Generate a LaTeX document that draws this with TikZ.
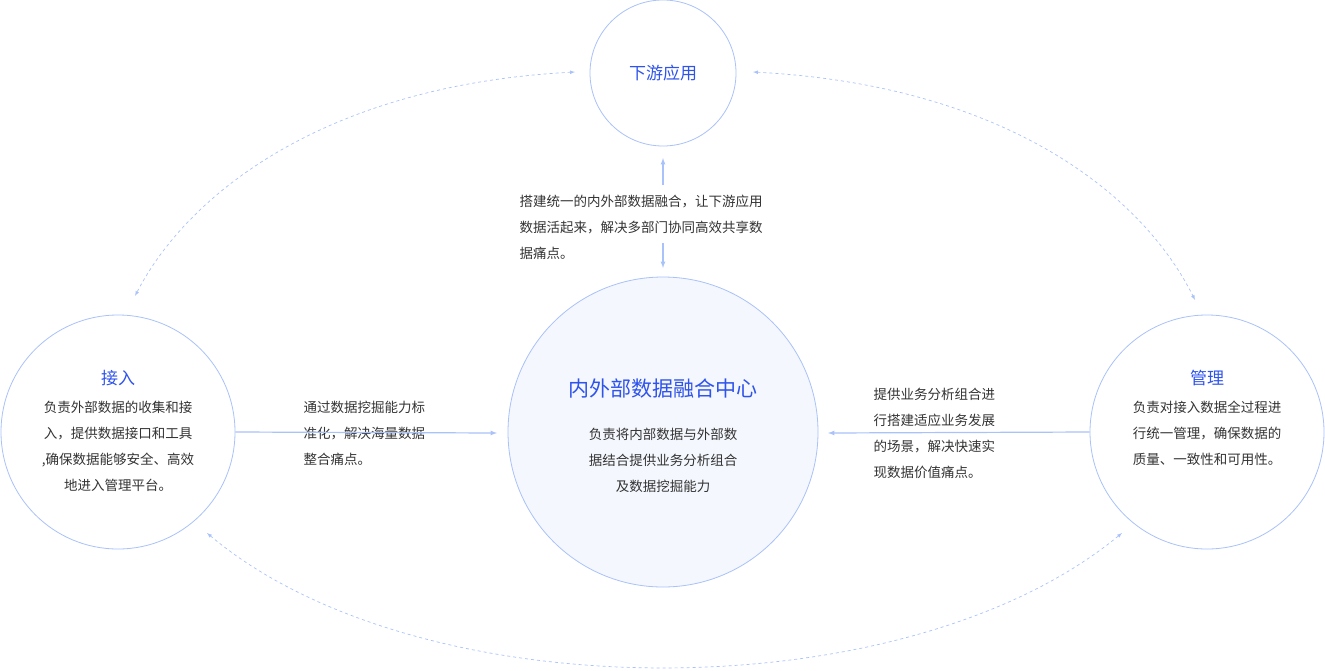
\documentclass[tikz,border=0pt]{standalone}
\usepackage{fontspec}
\newfontfamily\cjk{Noto Sans CJK SC}
\usetikzlibrary{positioning}
\definecolor{ringblue}{HTML}{A9C2F9}
\definecolor{titleblue}{HTML}{2F54EB}
\definecolor{hubfill}{HTML}{F4F7FD}
\definecolor{bodygray}{HTML}{333333}
\tikzstyle{ring}=[circle,draw=ringblue,fill=white,line width=0.8pt]
\tikzstyle{title}=[text=titleblue,font=\cjk\fontsize{17}{20}\selectfont]
\tikzstyle{body}=[text=bodygray,font=\cjk\fontsize{13.5}{26}\selectfont,align=center]
\tikzstyle{note}=[text=bodygray,font=\cjk\fontsize{13.5}{26}\selectfont,align=left]
\tikzstyle{flow}=[-latex,draw=ringblue,line width=1.2pt]
\tikzstyle{loopflow}=[latex-latex,draw=ringblue,dashed,line width=0.7pt]

\begin{document}
\begin{tikzpicture}[x=1pt,y=-1pt]
	\useasboundingbox (0,0) rectangle (1325,670);
	% circles
	\node [ring,minimum size=146pt] (top) at (663,73) {};
	\node [ring,fill=hubfill,minimum size=310pt] (hub) at (663,432) {};
	\node [ring,minimum size=234pt] (left) at (118,432) {};
	\node [ring,minimum size=234pt] (right) at (1207,432) {};
	\node [title] at (663,73) {下游应用};
	\node [title,font=\cjk\fontsize{21}{24}\selectfont] at (663,389) {内外部数据融合中心};
	\node [body] at (663,460) {负责将内部数据与外部数\\据结合提供业务分析组合\\及数据挖掘能力};
	\node [title] at (118,378) {接入};
	\node [body] at (118,446) {负责外部数据的收集和接\\入，提供数据接口和工具\\,确保数据能够安全、高效\\地进入管理平台。};
	\node [title] at (1207,378) {管理};
	\node [body] at (1207,433) {负责对接入数据全过程进\\行统一管理，确保数据的\\质量、一致性和可用性。};
	% notes
	\node [note,anchor=west] (topnote) at (516,227) {搭建统一的内外部数据融合，让下游应用\\数据活起来，解决多部门协同高效共享数\\据痛点。};
	\node [note,anchor=west] (leftnote) at (300,433) {通过数据挖掘能力标\\准化，解决海量数据\\整合痛点。};
	\node [note,anchor=west] (rightnote) at (870,433) {提供业务分析组合进\\行搭建适应业务发展\\的场景，解决快速实\\现数据价值痛点。};
	% arrows
	\coordinate (upfrom) at (663,185);
	\coordinate (upto) at (663,158);
	\coordinate (downfrom) at (663,243);
	\coordinate (downto) at (663,268);
	\draw [style=flow] (upfrom) -- (upto);
	\draw [style=flow] (downfrom) -- (downto);
	\coordinate (hubwest) at (497,433);
	\coordinate (hubeast) at (828,433);
	\draw [style=flow] (left.east) -- (hubwest);
	\draw [style=flow] (right.west) -- (hubeast);
	% dashed loops
	\coordinate (tl) at (575,72);
	\coordinate (lt) at (135,296);
	\coordinate (tr) at (753,72);
	\coordinate (rt) at (1195,300);
	\coordinate (lb) at (207,533);
	\coordinate (rb) at (1122,533);
	\draw [style=loopflow] (tl) .. controls (330,85) and (190,190) .. (lt);
	\draw [style=loopflow] (tr) .. controls (1000,85) and (1140,190) .. (rt);
	\draw [style=loopflow] (lb) .. controls (420,712) and (905,712) .. (rb);
\end{tikzpicture}
\end{document}
